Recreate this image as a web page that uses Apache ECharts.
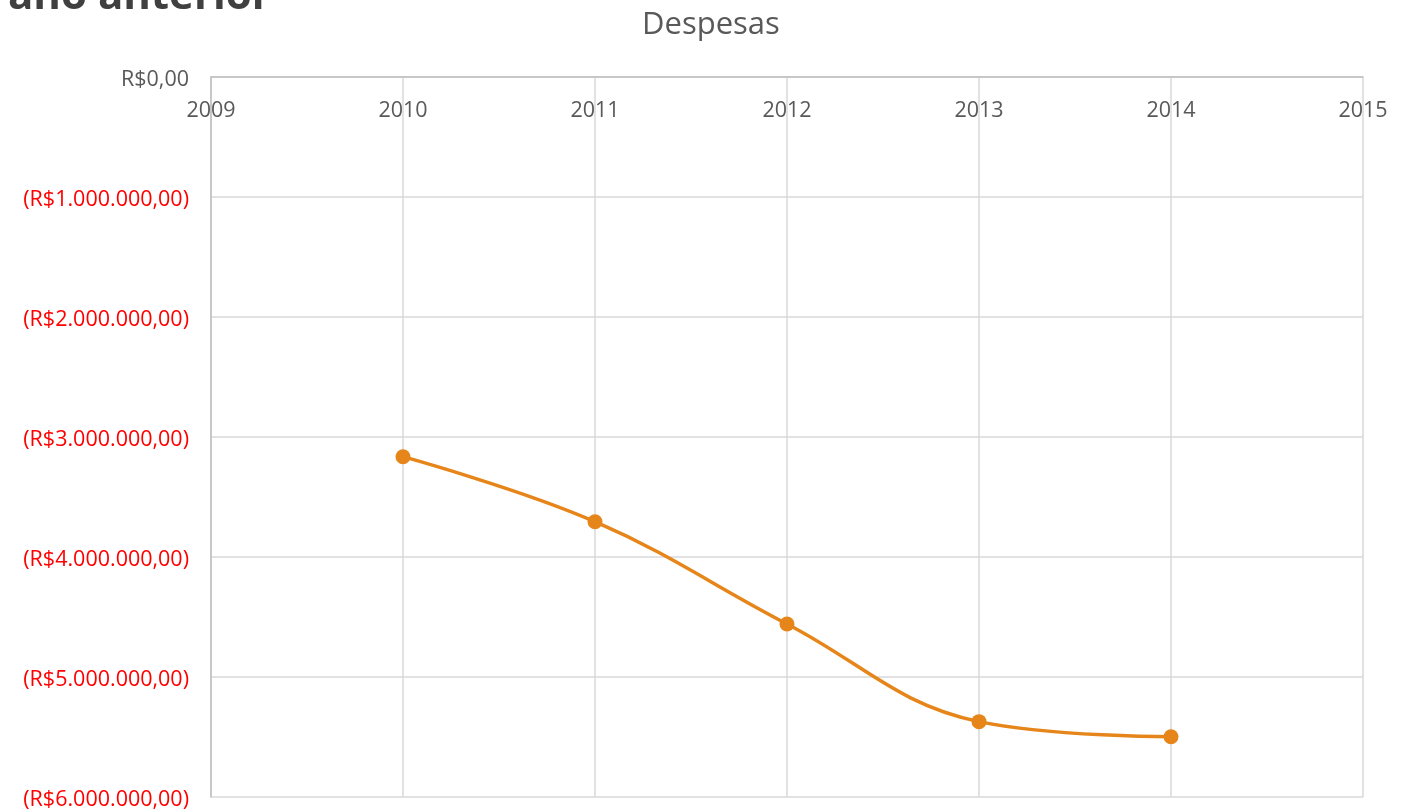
<!DOCTYPE html>
<html>
<head>
<meta charset="utf-8">
<script src="https://cdn.jsdelivr.net/npm/echarts@6/dist/echarts.min.js"></script>
<style>
html,body{margin:0;padding:0;background:#fff;}
#chart{width:1414px;height:811px;}
</style>
</head>
<body>
<div id="chart"></div>
<script>
const years = [2010, 2011, 2012, 2013, 2014];
const despesas = [-3164000, -3706000, -4558000, -5372000, -5498000];
const xRange = [2009, 2015];
const yRange = [-6000000, 0];
const chartTitle = 'Despesas';
const pageHeading = 'ano anterior';

function fmtBRL(v) {
  const abs = Math.abs(v);
  const intPart = Math.floor(abs).toString().replace(/\B(?=(\d{3})+(?!\d))/g, '.');
  const s = 'R$' + intPart + ',00';
  return v < 0 ? '(' + s + ')' : s;
}

const chart = echarts.init(document.getElementById('chart'));
chart.setOption({
  backgroundColor: '#ffffff',
  animation: false,
  title: {
    text: chartTitle,
    left: 637,
    top: 5,
    textStyle: { fontFamily: 'Open Sans', fontSize: 31, fontWeight: 'normal', color: '#595959' }
  },
  graphic: [{
    type: 'text',
    left: 8,
    top: -24,
    style: {
      text: pageHeading,
      font: 'bold 42px "Open Sans"',
      fill: '#404040'
    }
  }],
  grid: { left: 211, right: 51, top: 77, bottom: 14, containLabel: false },
  xAxis: {
    type: 'value',
    position: 'top',
    min: xRange[0], max: xRange[1], interval: 1,
    axisLine: { show: true, lineStyle: { color: '#bfbfbf', width: 1.5 } },
    axisTick: { show: false },
    axisLabel: {
      inside: true, margin: 23,
      fontFamily: 'Open Sans', fontSize: 21.5, color: '#595959',
      formatter: v => String(v)
    },
    splitLine: { show: true, lineStyle: { color: '#d9d9d9', width: 1.5 } }
  },
  yAxis: {
    type: 'value',
    min: yRange[0], max: yRange[1], interval: 1000000,
    axisLine: { show: true, lineStyle: { color: '#bfbfbf', width: 1.5 } },
    axisTick: { show: false },
    axisLabel: {
      margin: 22,
      formatter: v => (v < 0 ? '{neg|' + fmtBRL(v) + '}' : '{pos|' + fmtBRL(v) + '}'),
      rich: {
        neg: { fontFamily: 'Open Sans', fontSize: 21.5, color: '#ff0000', padding: [6, 0, 0, 0] },
        pos: { fontFamily: 'Open Sans', fontSize: 21.5, color: '#595959', padding: [6, 0, 0, 0] }
      }
    },
    splitLine: { show: true, lineStyle: { color: '#d9d9d9', width: 1.5 } }
  },
  series: [{
    type: 'line',
    data: years.map((y, i) => [y, despesas[i]]),
    smooth: 0.4,
    symbol: 'circle',
    symbolSize: 15,
    lineStyle: { color: '#e6861a', width: 3.5 },
    itemStyle: { color: '#e6861a' }
  }]
});
</script>
</body>
</html>
